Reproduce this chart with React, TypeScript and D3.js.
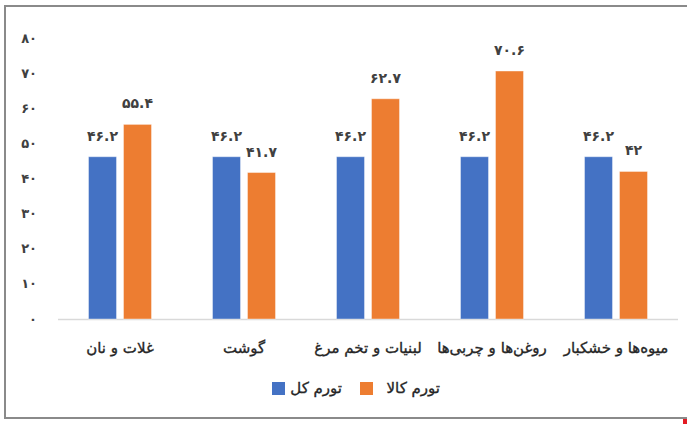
import React, { useEffect, useRef } from "react";
import * as d3 from "d3";

const categories = [
    "غلات و نان",
    "گوشت",
    "لبنیات و تخم مرغ",
    "روغن‌ها و چربی‌ها",
    "میوه‌ها و خشکبار",
];
const seriesNames = ["تورم کل", "تورم کالا"];
const totalInflation = [46.2, 46.2, 46.2, 46.2, 46.2];
const goodsInflation = [55.4, 41.7, 62.7, 70.6, 42];
const yTicks = [0, 10, 20, 30, 40, 50, 60, 70, 80];

const colors = ["#4472C4", "#ED7D31"];

// convert latin digits to persian digits
const fa = (v: number) =>
    String(v).replace(/[0-9]/g, d => "۰۱۲۳۴۵۶۷۸۹"[+d]);

const W = 687;
const H = 431;

const App: React.FC = () => {
    const svgRef = useRef<SVGSVGElement>(null);

    useEffect(() => {
        if (!svgRef.current) return;
        const svg = d3.select(svgRef.current);
        svg.selectAll("*").remove();

        const font = "'DejaVu Sans', sans-serif";

        // outer frame
        svg.append("rect")
            .attr("x", 5)
            .attr("y", 6)
            .attr("width", W + 10)
            .attr("height", 412)
            .attr("fill", "#fff")
            .attr("stroke", "#8a8a8a")
            .attr("stroke-width", 2);

        const x = d3.scaleBand<string>()
            .domain(categories)
            .range([58, 678])
            .paddingInner(0.492)
            .paddingOuter(0.246);

        const xs = d3.scaleBand<string>()
            .domain(seriesNames)
            .range([0, x.bandwidth()])
            .paddingInner(0.2);

        const y = d3.scaleLinear().domain([0, 80]).range([319, 38]);

        // baseline
        svg.append("line")
            .attr("x1", 58)
            .attr("x2", 678)
            .attr("y1", y(0) + 0.5)
            .attr("y2", y(0) + 0.5)
            .attr("stroke", "#d9d9d9")
            .attr("stroke-width", 1.5);

        // y tick labels
        svg.append("g")
            .selectAll("text")
            .data(yTicks)
            .join("text")
            .attr("x", 37)
            .attr("y", d => y(d))
            .attr("dy", "0.35em")
            .attr("text-anchor", "end")
            .attr("fill", "#404040")
            .attr("font-family", font)
            .attr("font-weight", "bold")
            .attr("font-size", 13)
            .text(d => fa(d));

        const series = [totalInflation, goodsInflation];

        series.forEach((vals, si) => {
            const g = svg.append("g");
            g.selectAll("rect")
                .data(vals)
                .join("rect")
                .attr("x", (d, i) => x(categories[i])! + xs(seriesNames[si])!)
                .attr("y", d => y(d))
                .attr("width", xs.bandwidth())
                .attr("height", d => y(0) - y(d))
                .attr("fill", colors[si])
                .attr("stroke", "#fff")
                .attr("stroke-opacity", 0.4)
                .attr("stroke-width", 1);

            g.selectAll("text")
                .data(vals)
                .join("text")
                .attr("x", (d, i) => x(categories[i])! + xs(seriesNames[si])! + xs.bandwidth() / 2)
                .attr("y", d => y(d) - 16)
                .attr("text-anchor", "middle")
                .attr("fill", "#404040")
                .attr("font-family", font)
                .attr("font-weight", "bold")
                .attr("font-size", 14)
                .text(d => fa(d));
        });

        // category labels
        svg.append("g")
            .selectAll("text")
            .data(categories)
            .join("text")
            .attr("x", d => x(d)! + x.bandwidth() / 2)
            .attr("y", 353)
            .attr("text-anchor", "middle")
            .attr("fill", "#262626")
            .attr("stroke", "#262626")
            .attr("stroke-width", 0.35)
            .attr("font-family", font)
            .attr("font-size", 15)
            .text(d => d);

        // legend
        const legend = [
            { name: seriesNames[0], color: colors[0], sx: 272, tx: 342 },
            { name: seriesNames[1], color: colors[1], sx: 360, tx: 440 },
        ];
        legend.forEach(l => {
            svg.append("rect")
                .attr("x", l.sx)
                .attr("y", 382)
                .attr("width", 13)
                .attr("height", 13)
                .attr("fill", l.color);
            svg.append("text")
                .attr("x", l.tx)
                .attr("y", 393)
                .attr("text-anchor", "end")
                .attr("fill", "#262626")
                .attr("stroke", "#262626")
                .attr("stroke-width", 0.35)
                .attr("font-family", font)
                .attr("font-size", 15)
                .text(l.name);
        });

        // small red mark at the bottom right corner
        svg.append("rect")
            .attr("x", 683)
            .attr("y", 419)
            .attr("width", 4)
            .attr("height", 5)
            .attr("fill", "#e31b23");
    }, []);

    return (
        <svg
            ref={svgRef}
            width={W}
            height={H}
            style={{ position: "absolute", left: 0, top: 0, background: "#fff" }}
        ></svg>
    );
};

export default App;
